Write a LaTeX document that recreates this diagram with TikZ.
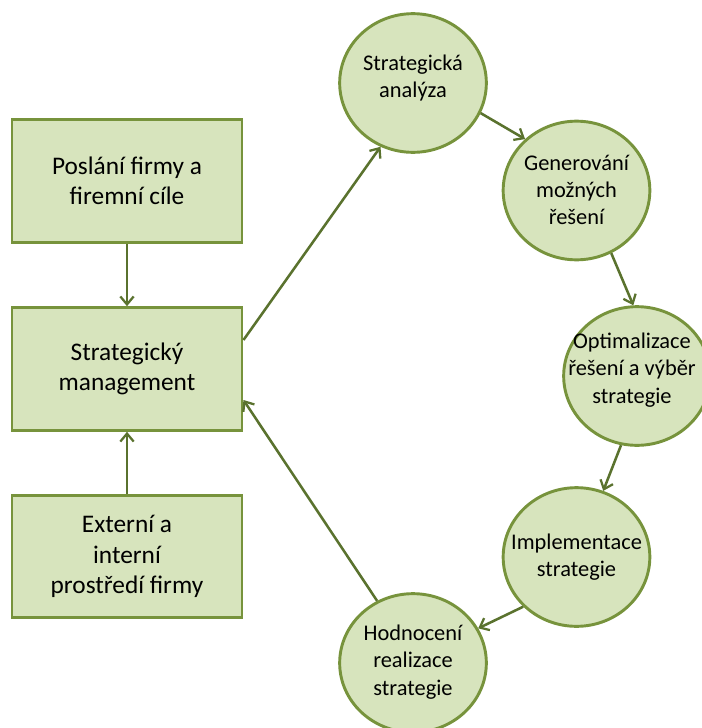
\documentclass[tikz,border=0pt]{standalone}
\usepackage{fontspec}
\setmainfont{Carlito}
\usetikzlibrary{shapes.geometric,arrows.meta}
\definecolor{boxfill}{HTML}{D7E4BD}
\definecolor{boxline}{HTML}{77933C}
\definecolor{arrowc}{HTML}{5A722E}
\tikzset{
  box/.style={draw=boxline, fill=boxfill, line width=2.2pt, rectangle,
    minimum width=172.5pt, minimum height=92pt, inner sep=0pt,
    align=center, font=\fontsize{19}{22.8}\selectfont},
  ell/.style={draw=boxline, fill=boxfill, line width=2.2pt, ellipse,
    minimum width=110pt, minimum height=104pt, inner sep=0pt},
  ctext/.style={align=center, inner sep=0pt, font=\fontsize{16.8}{20.5}\selectfont},
  conn/.style={draw=arrowc, line width=1.9pt,
    -{Straight Barb[length=6pt,width=10pt,line width=1.7pt]}},
}
\begin{document}
\begin{tikzpicture}[x=0.75pt,y=-0.75pt]
\useasboundingbox (0,0) rectangle (701,728);
\fill[white] (0,0) rectangle (701,728);
% boxes
\node[box] (b1) at (127,181) {Poslání firmy a\\firemní cíle};
\node[box] (b2) at (127,369) {Strategický\\management};
\node[box] (b3) at (127,556.5) {Externí a\\interní\\prostředí firmy};
% ellipses
\node[ell] (c1) at (413,83) {};
\node[ell] (c2) at (576.5,190.5) {};
\node[ell] (c3) at (637,376) {};
\node[ell] (c4) at (576.5,557) {};
\node[ell] (c5) at (413,663) {};
\node[ctext] (t1) at (413,78) {Strategická\\analýza};
\node[ctext] (t2) at (576.5,190) {Generování\\možných\\řešení};
\node[ctext] (t3) at (632,370) {Optimalizace\\řešení a výběr\\strategie};
\node[ctext] (t4) at (576.5,557) {Implementace\\strategie};
\node[ctext] (t5) at (413,662) {Hodnocení\\realizace\\strategie};
% connectors
\draw[conn] (b1.south) -- (b2.north);
\draw[conn] (b3.north) -- (b2.south);
\draw[conn] ([yshift=21.75pt]b2.east) -- (c1.243);
\draw[conn] (c1.-24) -- (c2.135);
\draw[conn] (c2.-61) -- (c3.93);
\draw[conn] (c3.-103) -- (c4.68);
\draw[conn] (c4.-137) -- (c5.28);
\draw[conn] (c5.120) -- ([yshift=-23.25pt]b2.east);
\end{tikzpicture}
\end{document}
